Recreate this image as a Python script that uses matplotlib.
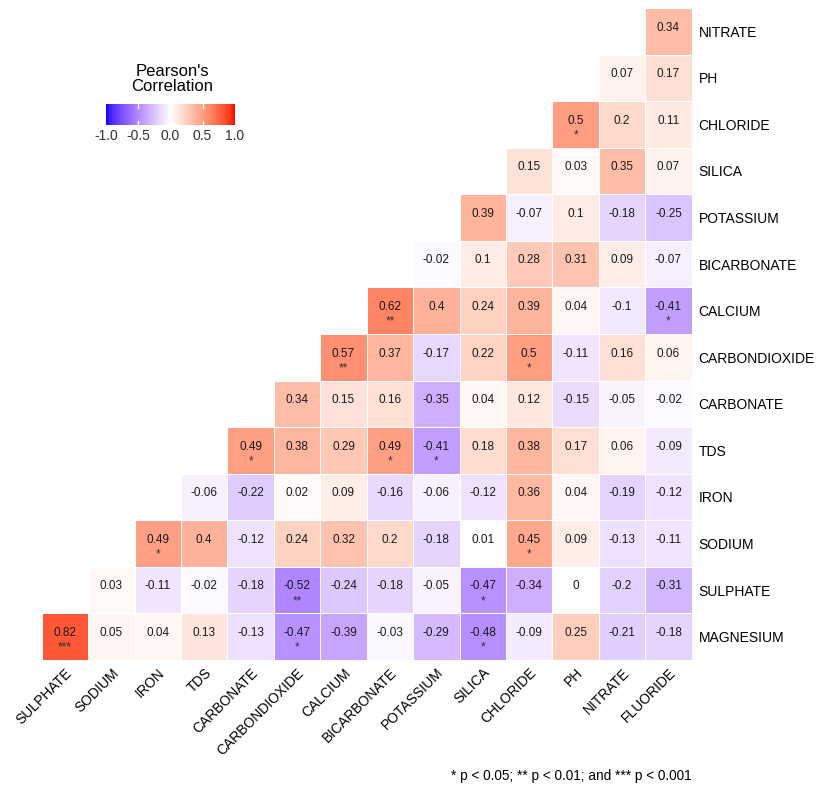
import numpy as np
import matplotlib
matplotlib.use("Agg")
import matplotlib.pyplot as plt
from matplotlib.colors import ListedColormap, Normalize

plt.rcParams['font.family'] = ['Liberation Sans', 'DejaVu Sans']

# rows from bottom to top, columns left to right
rows = ["MAGNESIUM", "SULPHATE", "SODIUM", "IRON", "TDS", "CARBONATE", "CARBONDIOXIDE",
        "CALCIUM", "BICARBONATE", "POTASSIUM", "SILICA", "CHLORIDE", "PH", "NITRATE"]
cols = ["SULPHATE", "SODIUM", "IRON", "TDS", "CARBONATE", "CARBONDIOXIDE", "CALCIUM",
        "BICARBONATE", "POTASSIUM", "SILICA", "CHLORIDE", "PH", "NITRATE", "FLUORIDE"]

# row i holds values for columns i..13
corr = [
    [0.82, 0.05, 0.04, 0.13, -0.13, -0.47, -0.39, -0.03, -0.29, -0.48, -0.09, 0.25, -0.21, -0.18],
    [0.03, -0.11, -0.02, -0.18, -0.52, -0.24, -0.18, -0.05, -0.47, -0.34, 0, -0.2, -0.31],
    [0.49, 0.4, -0.12, 0.24, 0.32, 0.2, -0.18, 0.01, 0.45, 0.09, -0.13, -0.11],
    [-0.06, -0.22, 0.02, 0.09, -0.16, -0.06, -0.12, 0.36, 0.04, -0.19, -0.12],
    [0.49, 0.38, 0.29, 0.49, -0.41, 0.18, 0.38, 0.17, 0.06, -0.09],
    [0.34, 0.15, 0.16, -0.35, 0.04, 0.12, -0.15, -0.05, -0.02],
    [0.57, 0.37, -0.17, 0.22, 0.5, -0.11, 0.16, 0.06],
    [0.62, 0.4, 0.24, 0.39, 0.04, -0.1, -0.41],
    [-0.02, 0.1, 0.28, 0.31, 0.09, -0.07],
    [0.39, -0.07, 0.1, -0.18, -0.25],
    [0.15, 0.03, 0.35, 0.07],
    [0.5, 0.2, 0.11],
    [0.07, 0.17],
    [0.34],
]

stars = [
    ["***", "", "", "", "", "*", "", "", "", "*", "", "", "", ""],
    ["", "", "", "", "**", "", "", "", "*", "", "", "", ""],
    ["*", "", "", "", "", "", "", "", "*", "", "", ""],
    ["", "", "", "", "", "", "", "", "", "", ""],
    ["*", "", "", "*", "*", "", "", "", "", ""],
    ["", "", "", "", "", "", "", "", ""],
    ["**", "", "", "", "*", "", "", ""],
    ["**", "", "", "", "", "", "*"],
    ["", "", "", "", "", ""],
    ["", "", "", "", ""],
    ["", "", "", ""],
    ["*", "", ""],
    ["", ""],
    [""],
]


# blue-white-red gradient interpolated in CIELAB like ggplot
def srgb_to_lab(c):
    c = np.asarray(c, float)
    lin = np.where(c <= 0.04045, c / 12.92, ((c + 0.055) / 1.055) ** 2.4)
    M = np.array([[0.4124, 0.3576, 0.1805], [0.2126, 0.7152, 0.0722], [0.0193, 0.1192, 0.9505]])
    xyz = M @ lin / np.array([0.95047, 1.0, 1.08883])
    f = np.where(xyz > 0.008856, np.cbrt(xyz), 7.787 * xyz + 16 / 116)
    return np.array([116 * f[1] - 16, 500 * (f[0] - f[1]), 200 * (f[1] - f[2])])


def lab_to_srgb(lab):
    L, a, b = lab
    fy = (L + 16) / 116
    fx = fy + a / 500
    fz = fy - b / 200
    f = np.array([fx, fy, fz])
    xyz = np.where(f ** 3 > 0.008856, f ** 3, (f - 16 / 116) / 7.787) * np.array([0.95047, 1.0, 1.08883])
    Minv = np.array([[3.2406, -1.5372, -0.4986], [-0.9689, 1.8758, 0.0415], [0.0557, -0.2040, 1.0570]])
    lin = Minv @ xyz
    lin = np.clip(lin, 0, 1)
    c = np.where(lin <= 0.0031308, 12.92 * lin, 1.055 * lin ** (1 / 2.4) - 0.055)
    return np.clip(c, 0, 1)


blue = srgb_to_lab([0, 0, 1])
white = srgb_to_lab([1, 1, 1])
red = srgb_to_lab([1, 0, 0])
colors = []
for t in np.linspace(-1, 1, 256):
    if t < 0:
        lab = white + (blue - white) * (-t)
    else:
        lab = white + (red - white) * t
    colors.append(lab_to_srgb(lab))
cmap = ListedColormap(colors)
norm = Normalize(-1, 1)

n = len(cols)
mat = np.full((n, n), np.nan)
for i, vals in enumerate(corr):
    for k, v in enumerate(vals):
        mat[i, i + k] = v

fig = plt.figure(figsize=(8.21, 7.91), dpi=100)
ax = fig.add_axes([41.7 / 821, 1 - 660 / 791, 650 / 821, 652 / 791])
ax.pcolormesh(np.arange(n + 1) - 0.5, np.arange(n + 1) - 0.5, np.ma.masked_invalid(mat),
              cmap=cmap, norm=norm, edgecolors='white', linewidth=0.6)

for i, vals in enumerate(corr):
    for k, v in enumerate(vals):
        j = i + k
        ax.text(j, i + 0.08, f"{v:g}", ha='center', va='center', fontsize=8.5, color='#1a1a1a')
        s = stars[i][k]
        if s:
            ax.text(j, i - 0.24, s, ha='center', va='center', fontsize=8.5, color='#333333')

ax.set_xlim(-0.5, n - 0.5)
ax.set_ylim(-0.5, n - 0.5)
ax.set_xticks(range(n))
ax.set_xticklabels(cols, rotation=45, ha='right', rotation_mode='anchor', fontsize=10)
ax.set_yticks(range(n))
ax.set_yticklabels(rows, fontsize=10)
ax.yaxis.tick_right()
ax.tick_params(axis='y', length=0, pad=5)
ax.tick_params(axis='x', length=0, pad=4)
for sp in ax.spines.values():
    sp.set_visible(False)

# legend colorbar
cax = fig.add_axes([105 / 821, 1 - 125 / 791, 131 / 821, 21 / 791])
grad = np.linspace(-1, 1, 256).reshape(1, -1)
cax.imshow(grad, cmap=cmap, norm=norm, aspect='auto', extent=[-1, 1, 0, 1])
for t in [-0.5, 0, 0.5]:
    cax.plot([t, t], [0, 0.2], color='white', lw=1)
    cax.plot([t, t], [0.8, 1], color='white', lw=1)
cax.set_xlim(-1.02, 1.02)
cax.set_ylim(0, 1)
cax.set_xticks([-1, -0.5, 0, 0.5, 1])
cax.set_xticklabels(["-1.0", "-0.5", "0.0", "0.5", "1.0"], fontsize=10, color='#333333')
cax.set_yticks([])
cax.tick_params(length=0, pad=3)
for sp in cax.spines.values():
    sp.set_visible(False)
fig.text(172 / 821, 1 - 79 / 791, "Pearson's\nCorrelation", ha='center', va='center',
         fontsize=12, linespacing=1.0)

fig.text(692 / 821, 1 - 776 / 791, "* p < 0.05; ** p < 0.01; and *** p < 0.001",
         ha='right', va='center', fontsize=9.8)

fig.savefig("out.png", dpi=100, facecolor='white')
